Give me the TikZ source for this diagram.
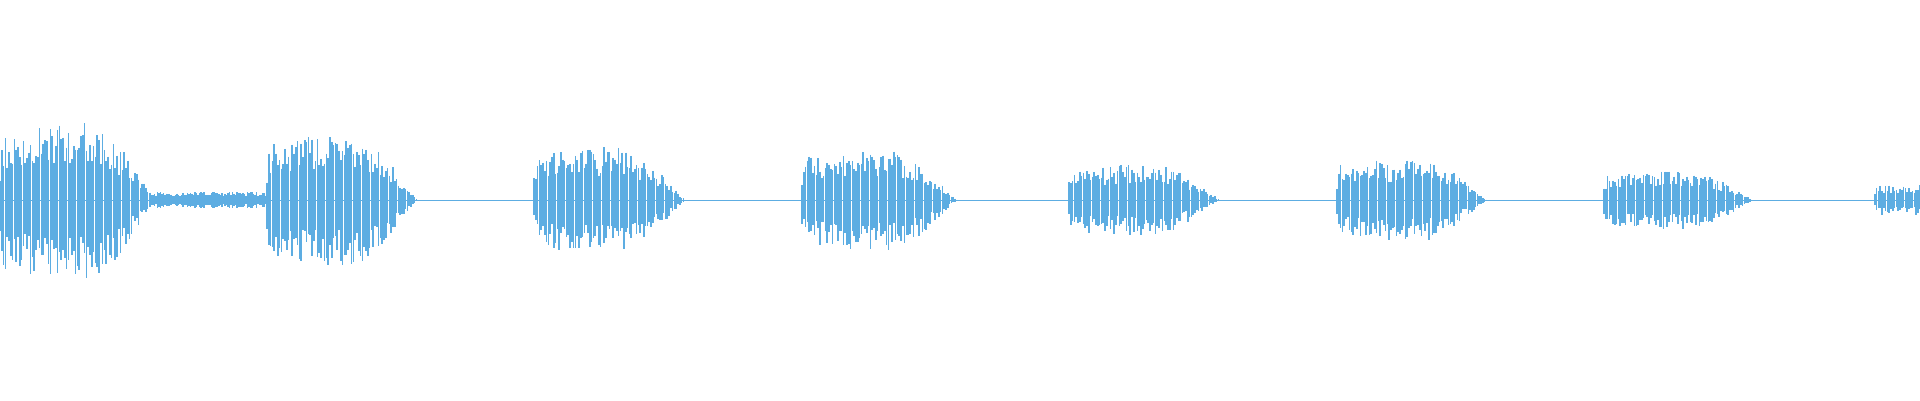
\documentclass[tikz,border=0pt]{standalone}
\definecolor{wave}{HTML}{5DADE2}
\newcommand{\wburst}[4]{% start, end, amplitude, step
  \pgfmathsetmacro{\wsecond}{#1+#4}%
  \foreach \x in {#1,\wsecond,...,#2}{%
    \pgfmathsetmacro{\t}{(\x-#1)/(#2-#1)}%
    \pgfmathsetmacro{\rise}{min(1,0.6+\t/0.05)}%
    \pgfmathsetmacro{\fall}{\t<0.55 ? 1 : cos((\t-0.55)/0.45*90)}%
    \pgfmathsetmacro{\hump}{0.85+0.15*sin(\t*180)}%
    \pgfmathsetmacro{\env}{max(0.04,#3*\rise*\fall*\hump)}%
    \pgfmathsetmacro{\up}{\env*(0.45+0.55*rnd)}%
    \pgfmathsetmacro{\dn}{\env*(0.45+0.55*rnd)}%
    \draw[wave,line width=1.5pt] (\x,\up) -- (\x,-\dn);
  }}
\begin{document}
\begin{tikzpicture}[x=1pt,y=1pt]
\useasboundingbox (0,-200) rectangle (1920,200);
\pgfmathsetseed{7}
\draw[wave,line width=1pt] (0,0) -- (1920,0);
% noise after first burst
\foreach \x in {150,151.5,...,266}{%
  \pgfmathsetmacro{\a}{4+4*rnd}%
  \draw[wave,line width=1.2pt] (\x,\a) -- (\x,-\a);}
\wburst{0}{155}{80}{1.8}
\wburst{267}{418}{66}{1.8}
\wburst{534}{685}{54}{1.8}
\wburst{802}{957}{50}{1.8}
\wburst{1069}{1220}{36}{1.8}
\wburst{1337}{1487}{41}{1.8}
\wburst{1604}{1753}{30}{1.8}
\foreach \x in {1873,1874.8,...,1920}{%
  \pgfmathsetmacro{\r}{min(1,(\x-1873)/4)}%
  \pgfmathsetmacro{\a}{15*\r*(0.45+0.55*rnd)}%
  \pgfmathsetmacro{\b}{15*\r*(0.45+0.55*rnd)}%
  \draw[wave,line width=1.5pt] (\x,\a) -- (\x,-\b);}
\end{tikzpicture}
\end{document}
